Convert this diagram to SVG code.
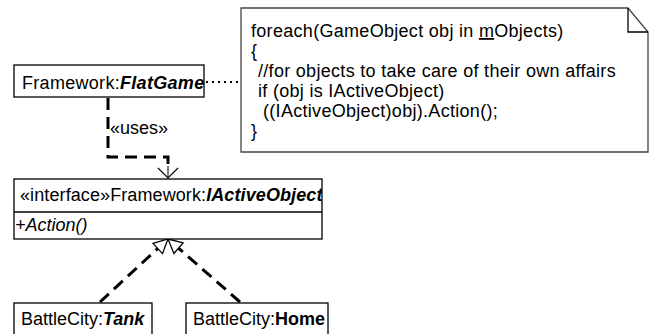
<svg xmlns="http://www.w3.org/2000/svg" width="650" height="334" viewBox="0 0 650 334">
<style>
text{font-family:"Liberation Sans",Arial,sans-serif;font-size:18px;fill:#000}
.ls{letter-spacing:0.3px}
.box{fill:#fff;stroke:#000;stroke-width:1.3}
.bi{font-weight:bold;font-style:italic}
.b{font-weight:bold}
.i{font-style:italic}
.dash{fill:none;stroke:#000;stroke-width:3;stroke-dasharray:12,7}
</style>
<defs>
<marker id="open" markerWidth="24" markerHeight="24" refX="12" refY="12" orient="auto" markerUnits="userSpaceOnUse">
<path d="M2,2 L12,12 L2,22" fill="none" stroke="#000" stroke-width="1.2"/>
</marker>
<marker id="tri" markerWidth="24" markerHeight="24" refX="18" refY="12" orient="auto" markerUnits="userSpaceOnUse">
<path d="M4,5 L18,12 L4,19 Z" fill="#fff" stroke="#000" stroke-width="1.3"/>
</marker>
<clipPath id="clipI"><rect x="14" y="179" width="308" height="60"/></clipPath>
</defs>
<g id="connectors">
<line x1="206" y1="82" x2="240" y2="82" stroke="#000" stroke-width="2" stroke-dasharray="2,4"/>
<path class="dash" d="M108,98 V157 H168 V170"/>
<line x1="168" y1="166" x2="168" y2="178" stroke="#000" stroke-width="1" marker-end="url(#open)"/>
<line x1="100" y1="302" x2="168" y2="239" class="dash" marker-end="url(#tri)"/>
<line x1="240" y1="302" x2="168" y2="239" class="dash" marker-end="url(#tri)"/>
<text x="110" y="134">«uses»</text>
</g>
<g id="note" class="ls">
<path d="M241,8 H628 L648,32 V152 H241 Z" fill="#fff" stroke="#444" stroke-width="1.3"/>
<path d="M628,8 V32 H648" fill="none" stroke="#000" stroke-width="1.3"/>
<text x="251" y="37" class="ls">foreach(GameObject obj in <tspan text-decoration="underline">m</tspan>Objects)</text>
<text x="251" y="57" class="ls">{</text>
<text x="258" y="77" class="ls">//for objects to take care of their own affairs</text>
<text x="258" y="97" class="ls">if (obj is IActiveObject)</text>
<text x="263" y="117" class="ls">((IActiveObject)obj).Action();</text>
<text x="251" y="137" class="ls">}</text>
</g>
<g id="flatgame">
<rect class="box" x="14" y="65" width="190" height="32"/>
<text x="22" y="89" class="ls">Framework:<tspan class="bi">FlatGame</tspan></text>
</g>
<g id="iactiveobject">
<rect class="box" x="14" y="179" width="308" height="60"/>
<line x1="14" y1="212" x2="322" y2="212" stroke="#000" stroke-width="1.3"/>
<text x="20" y="201" clip-path="url(#clipI)" style="letter-spacing:0.1px">«interface»Framework:<tspan class="bi">IActiveObject</tspan></text>
<text x="15" y="231" class="i">+Action()</text>
</g>
<g id="tank">
<rect class="box" x="14" y="303" width="138" height="40"/>
<text x="21" y="325">BattleCity:<tspan class="bi">Tank</tspan></text>
</g>
<g id="home">
<rect class="box" x="186" y="303" width="142" height="40"/>
<text x="193" y="325">BattleCity:<tspan class="b">Home</tspan></text>
</g>
</svg>
